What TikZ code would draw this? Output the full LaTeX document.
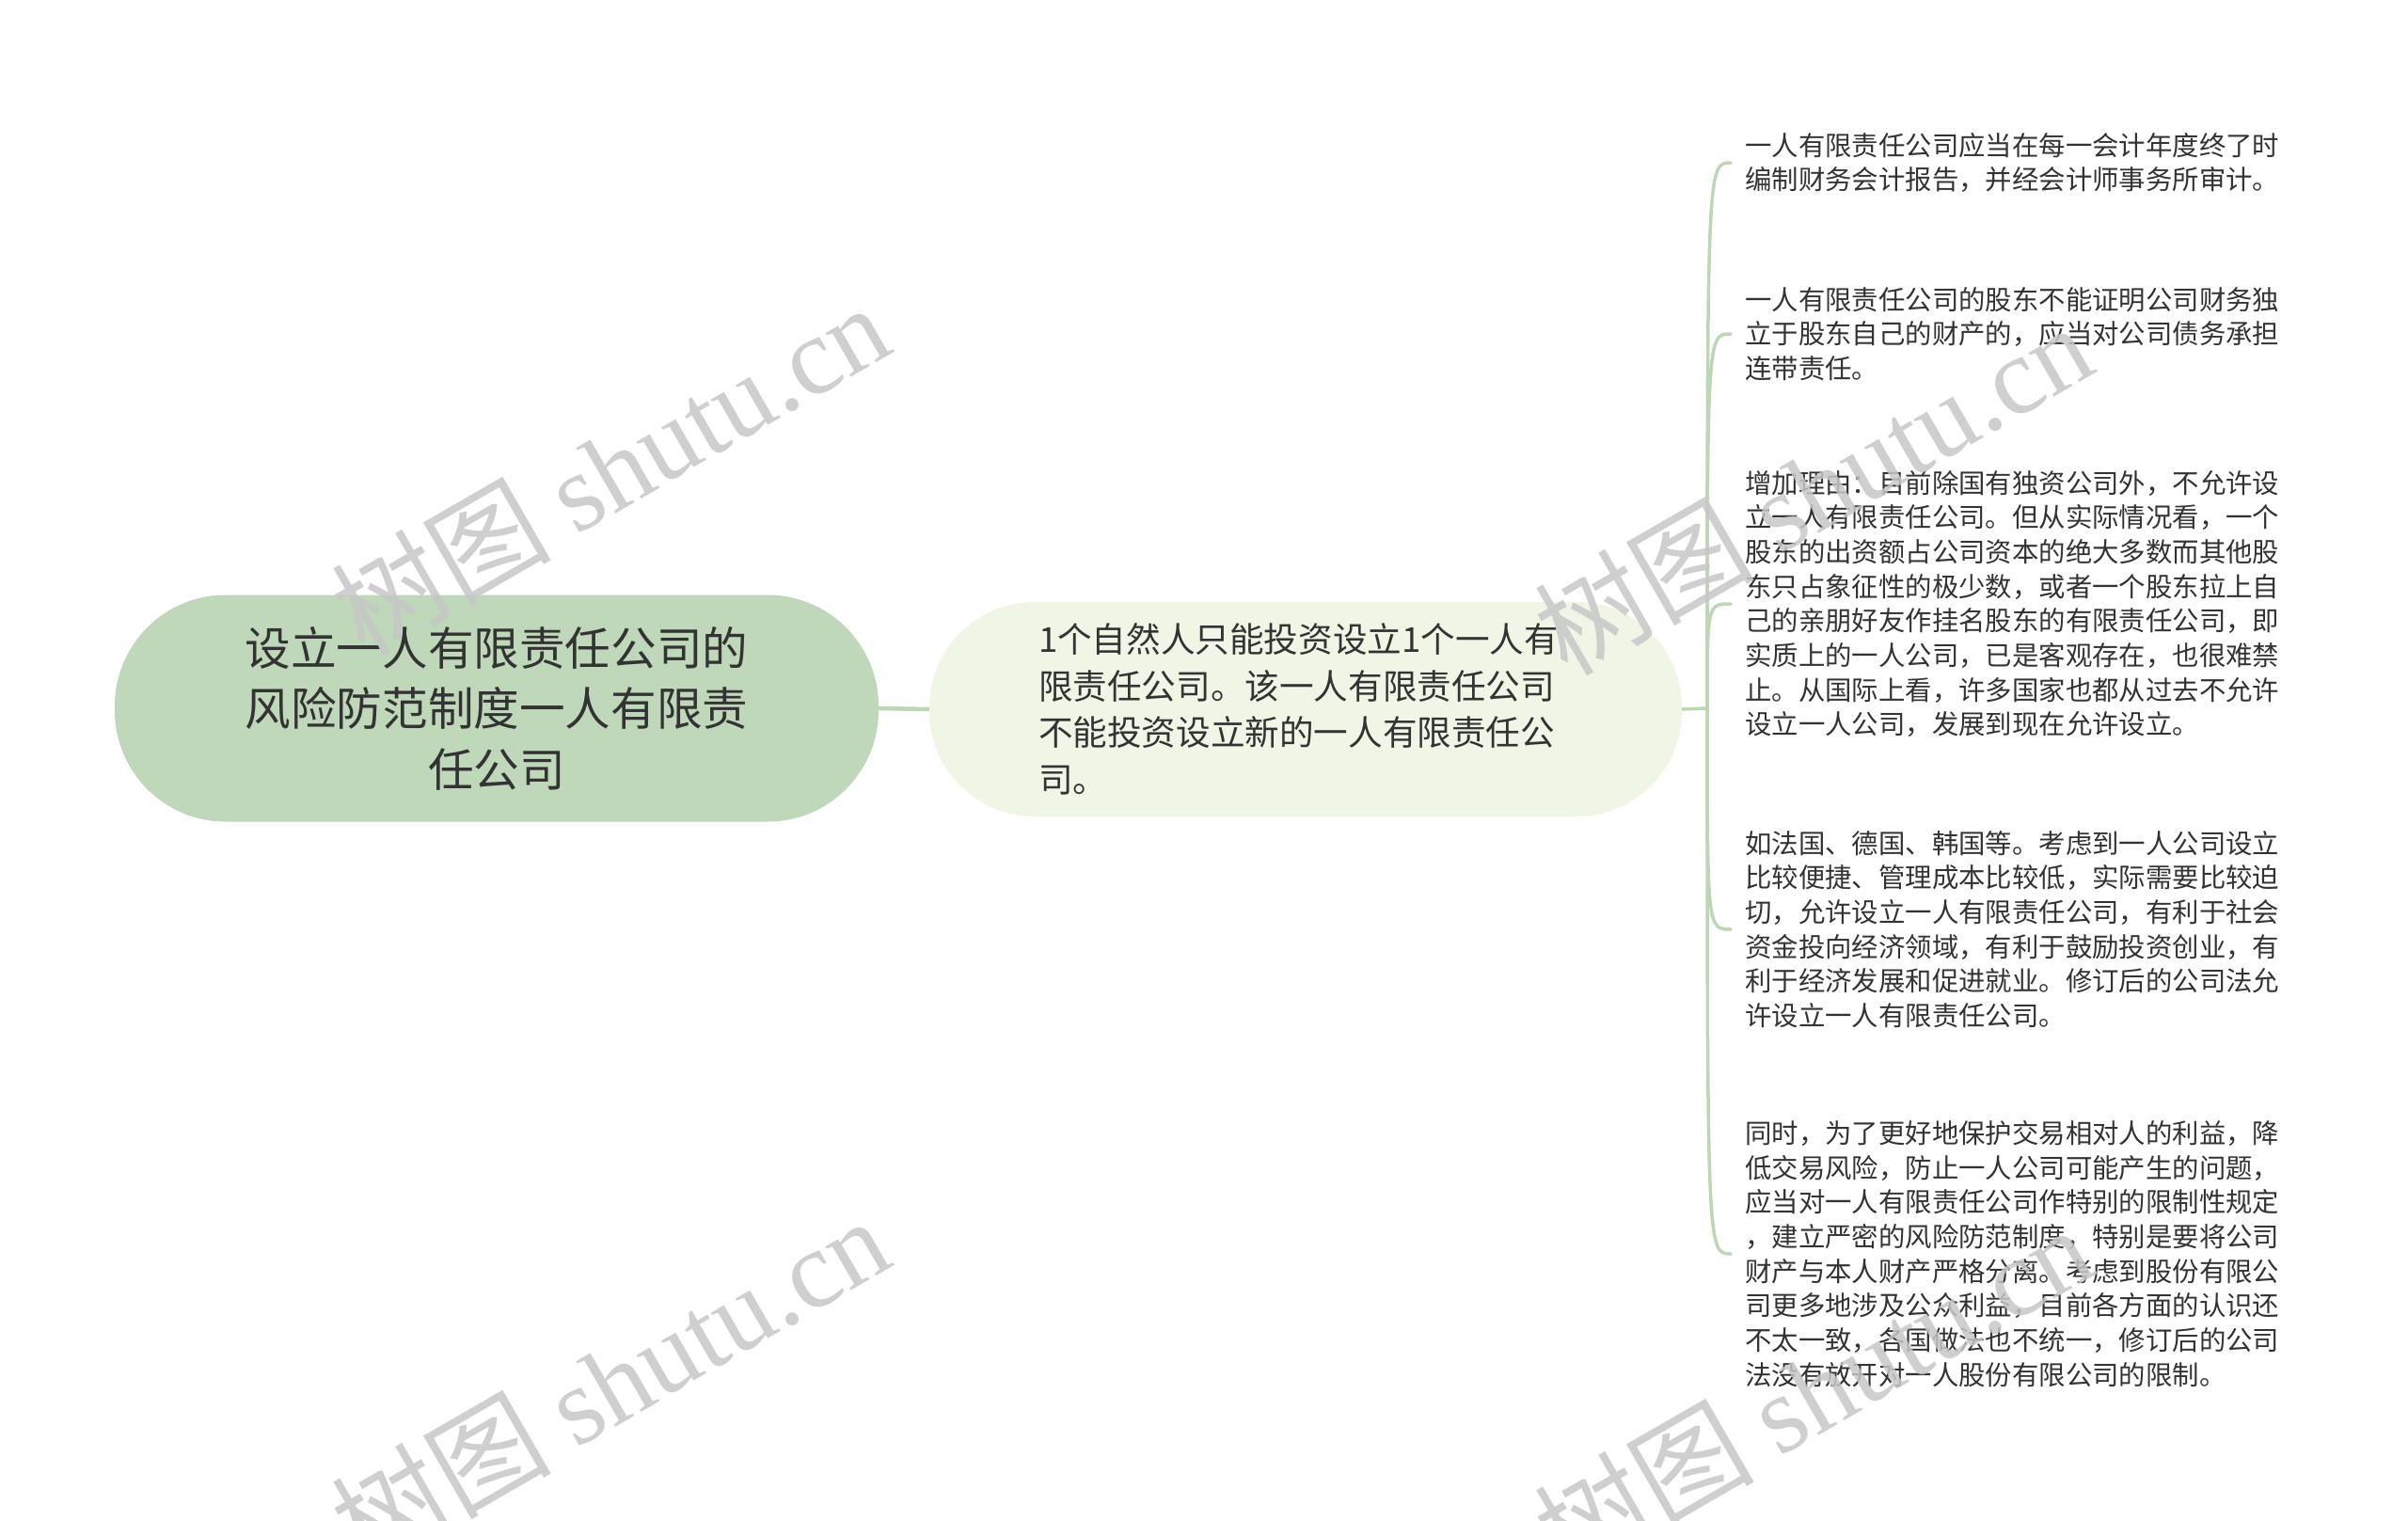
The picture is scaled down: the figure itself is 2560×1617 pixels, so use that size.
\documentclass[tikz,border=0pt]{standalone}
\usepackage{fontspec}
\setmainfont{Noto Sans CJK SC}
\newfontfamily\wmlatin{Liberation Serif}
\definecolor{rootfill}{HTML}{BFD8B9}
\definecolor{midfill}{HTML}{EFF6E6}
\definecolor{linkcol}{HTML}{BDD7B5}
\definecolor{txt}{HTML}{333333}
\tikzset{
  rootbox/.style={fill=rootfill, rounded corners=118pt, minimum width=812pt, minimum height=241pt, align=center, text=txt, inner sep=0pt, font=\fontsize{48.6pt}{64.5pt}\selectfont},
  midbox/.style={fill=midfill, rounded corners=112pt, minimum width=800pt, minimum height=228pt, text width=568pt, align=left, text=txt, inner sep=0pt, font=\fontsize{36.6pt}{49.5pt}\selectfont},
  leafbox/.style={anchor=west, align=left, text=txt, inner xsep=15pt, inner ysep=0pt, font=\fontsize{28.4pt}{36.7pt}\selectfont},
  link/.style={draw=linkcol, line width=3.5pt, line cap=round},
  wmark/.style={rotate=30, text=black!22, opacity=0.85, font=\fontsize{117pt}{125pt}\selectfont, inner sep=0pt}
}
\begin{document}
\begin{tikzpicture}[x=1pt,y=-1pt]
\useasboundingbox[fill=white] (0,0) rectangle (2560,1617);
\node[rootbox] (root) at (528,753) {设立一人有限责任公司的\\风险防范制度一人有限责\\任公司};
\node[midbox] (mid) at (1388,754) {1个自然人只能投资设立1个一人有\\限责任公司。该一人有限责任公司\\不能投资设立新的一人有限责任公\\司。};
\coordinate (J) at (1815,753);
\node[leafbox] (l1) at (1840,173) {一人有限责任公司应当在每一会计年度终了时\\编制财务会计报告，并经会计师事务所审计。};
\node[leafbox] (l2) at (1840,355) {一人有限责任公司的股东不能证明公司财务独\\立于股东自己的财产的，应当对公司债务承担\\连带责任。};
\node[leafbox] (l3) at (1840,642) {增加理由：目前除国有独资公司外，不允许设\\立一人有限责任公司。但从实际情况看，一个\\股东的出资额占公司资本的绝大多数而其他股\\东只占象征性的极少数，或者一个股东拉上自\\己的亲朋好友作挂名股东的有限责任公司，即\\实质上的一人公司，已是客观存在，也很难禁\\止。从国际上看，许多国家也都从过去不允许\\设立一人公司，发展到现在允许设立。};
\node[leafbox] (l4) at (1840,988) {如法国、德国、韩国等。考虑到一人公司设立\\比较便捷、管理成本比较低，实际需要比较迫\\切，允许设立一人有限责任公司，有利于社会\\资金投向经济领域，有利于鼓励投资创业，有\\利于经济发展和促进就业。修订后的公司法允\\许设立一人有限责任公司。};
\node[leafbox] (l5) at (1840,1333) {同时，为了更好地保护交易相对人的利益，降\\低交易风险，防止一人公司可能产生的问题，\\应当对一人有限责任公司作特别的限制性规定\\，建立严密的风险防范制度，特别是要将公司\\财产与本人财产严格分离。考虑到股份有限公\\司更多地涉及公众利益，目前各方面的认识还\\不太一致，各国做法也不统一，修订后的公司\\法没有放开对一人股份有限公司的限制。};
\draw[link, line width=4.5pt, line cap=butt] (root.east) -- (mid.west);
\draw[link, line cap=butt] (mid.east) -- (J);
\foreach \l in {l1,l2,l3,l4,l5}{
  \draw[link] (J) .. controls (J |- \l.west) .. (\l.west);
}
\node[wmark] (w1) at (648,498) {树图 {\wmlatin shutu.cn}};
\node[wmark] (w2) at (1927,519) {树图 {\wmlatin shutu.cn}};
\node[wmark] (w3) at (648,1469) {树图 {\wmlatin shutu.cn}};
\node[wmark] (w4) at (1927,1478) {树图 {\wmlatin shutu.cn}};
\end{tikzpicture}
\end{document}
